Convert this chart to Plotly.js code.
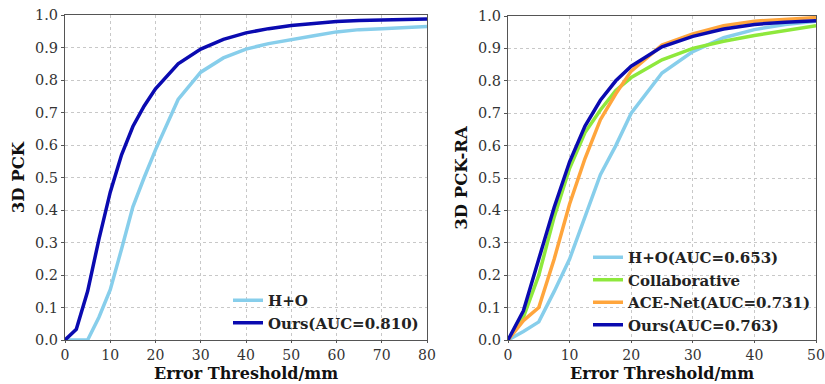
<!DOCTYPE html>
<html><head><meta charset="utf-8">
<script src="https://cdn.plot.ly/plotly-3.0.1.min.js"></script>
<style>html,body{margin:0;padding:0;background:#fff}#c{width:825px;height:384px}</style>
</head><body><div id="c"></div>
<script>
const xLeft = [0,2.5,5,7.5,10,12.5,15,17.5,20,25,30,35,40,45,50,55,60,65,70,75,80];
const leftHO =   [0,0,0,0.07,0.155,0.28,0.41,0.5,0.585,0.74,0.824,0.868,0.895,0.912,0.925,0.936,0.948,0.955,0.958,0.962,0.965];
const leftOurs = [0,0.033,0.15,0.31,0.455,0.57,0.657,0.72,0.773,0.85,0.895,0.925,0.945,0.958,0.968,0.975,0.98,0.983,0.985,0.987,0.988];

const xRight = [0,2.5,5,7.5,10,12.5,15,17.5,20,25,30,35,40,45,50];
const rightHO =     [0,0.026,0.056,0.15,0.25,0.38,0.51,0.6,0.70,0.824,0.89,0.933,0.958,0.974,0.984];
const rightCollab = [0,0.07,0.2,0.38,0.53,0.64,0.71,0.77,0.81,0.865,0.9,0.922,0.94,0.955,0.97];
const rightACE =    [0,0.06,0.1,0.25,0.42,0.56,0.68,0.76,0.83,0.91,0.945,0.97,0.984,0.99,0.995];
const rightOurs =   [0,0.09,0.25,0.41,0.55,0.66,0.74,0.80,0.845,0.905,0.937,0.96,0.974,0.981,0.985];

const labelsLeft = ['H+O','Ours(AUC=0.810)'];
const labelsRight = ['H+O(AUC=0.653)','Collaborative','ACE-Net(AUC=0.731)','Ours(AUC=0.763)'];
const xTitle = 'Error Threshold/mm';

const cLight = '#87CEEB', cNavy = '#0a0ab0', cGreen = '#8ee83c', cOrange = '#ffa53c';
const lw = 3.5;
const traces = [
  {x:xLeft,y:leftHO,name:labelsLeft[0],mode:'lines',line:{color:cLight,width:lw},xaxis:'x',yaxis:'y',legend:'legend'},
  {x:xLeft,y:leftOurs,name:labelsLeft[1],mode:'lines',line:{color:cNavy,width:lw},xaxis:'x',yaxis:'y',legend:'legend'},
  {x:xRight,y:rightHO,name:labelsRight[0],mode:'lines',line:{color:cLight,width:lw},xaxis:'x2',yaxis:'y2',legend:'legend2'},
  {x:xRight,y:rightCollab,name:labelsRight[1],mode:'lines',line:{color:cGreen,width:lw},xaxis:'x2',yaxis:'y2',legend:'legend2'},
  {x:xRight,y:rightACE,name:labelsRight[2],mode:'lines',line:{color:cOrange,width:lw},xaxis:'x2',yaxis:'y2',legend:'legend2'},
  {x:xRight,y:rightOurs,name:labelsRight[3],mode:'lines',line:{color:cNavy,width:lw},xaxis:'x2',yaxis:'y2',legend:'legend2'}
];
const tickFont = {family:'DejaVu Serif',size:14.5,color:'#333'};
const xTickFont = {family:'DejaVu Serif',size:14,color:'#333'};
const titleFont = {family:'DejaVu Serif',size:16.5,color:'#111',weight:'bold'};
const xTitleFont = {family:'DejaVu Serif',size:16,color:'#111',weight:'bold'};
function ax(extra){return Object.assign({showgrid:true,gridcolor:'#c8c8c8',griddash:'dot',gridwidth:1,
  showline:true,linecolor:'#555',linewidth:1,mirror:true,ticks:'outside',ticklen:3,tickcolor:'#555',
  zeroline:false,tickfont:tickFont,ticklabeloverflow:'allow',automargin:false},extra);}
const yTicks = [0,0.1,0.2,0.3,0.4,0.5,0.6,0.7,0.8,0.9,1.0];
const legFont = {family:'DejaVu Serif',size:15,color:'#222',weight:'bold'};
const layout = {
  width:825,height:384,margin:{l:0,r:0,t:0,b:0},paper_bgcolor:'#fff',plot_bgcolor:'#fff',
  xaxis:ax({domain:[65/825,427/825],range:[0,80],tickvals:[0,10,20,30,40,50,60,70,80],anchor:'y',tickfont:xTickFont,ticklen:2}),
  yaxis:ax({domain:[44/384,369/384],range:[0,1],tickvals:yTicks,tickformat:'.1f',
    title:{text:'3D PCK',font:titleFont,standoff:6},anchor:'x'}),
  xaxis2:ax({domain:[508/825,816/825],range:[0,50],tickvals:[0,10,20,30,40,50],anchor:'y2',tickfont:xTickFont,ticklen:2}),
  yaxis2:ax({domain:[44/384,368/384],range:[0,1],tickvals:yTicks,tickformat:'.1f',
    title:{text:'3D PCK-RA',font:titleFont,standoff:6},anchor:'x2'}),
  annotations:[
    {text:xTitle,xref:'x domain',yref:'paper',x:0.5,y:0,xanchor:'center',yanchor:'bottom',yshift:-1,showarrow:false,font:xTitleFont},
    {text:xTitle,xref:'x2 domain',yref:'paper',x:0.5,y:0,xanchor:'center',yanchor:'bottom',yshift:-1,showarrow:false,font:xTitleFont}
  ],
  legend:{x:228/825,y:(384-284)/384,xanchor:'left',yanchor:'top',bgcolor:'rgba(0,0,0,0)',
    font:legFont,tracegroupgap:0,itemwidth:30},
  legend2:{x:588/825,y:(384-241)/384,xanchor:'left',yanchor:'top',bgcolor:'rgba(0,0,0,0)',
    font:legFont,tracegroupgap:0,itemwidth:30},
  showlegend:true
};
Plotly.newPlot('c',traces,layout,{staticPlot:true});
</script></body></html>
